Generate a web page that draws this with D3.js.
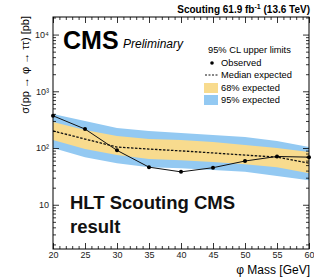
<!DOCTYPE html>
<html>
<head>
<meta charset="utf-8">
<script src="https://cdn.jsdelivr.net/npm/d3@7"></script>
<style>
  body { margin: 0; background: #fff; }
  svg { display: block; font-family: "Liberation Sans", Arial, sans-serif; }
</style>
</head>
<body>
<svg id="chart" width="314" height="279"></svg>
<script>
const masses = [20, 25, 30, 35, 40, 45, 50, 55, 60]
const observed = [370, 216, 91, 46, 38, 45, 59, 71, 69]
const median = [200, 144, 104, 96, 89, 82, 75, 69, 54]
const band68Up = [287, 208, 163, 144, 138, 128, 113, 100, 85]
const band68Down = [138, 96, 75, 64, 61, 57, 52, 46, 36]
const band95Up = [398, 299, 225, 200, 184, 170, 156, 133, 104]
const band95Down = [100, 69, 54, 46, 44, 41, 38, 32, 27]
const xTicks = [20, 25, 30, 35, 40, 45, 50, 55, 60]
const yTicks = [10, 100, 1000, 10000]
const yTickLabels = ['10', '10²', '10³', '10⁴']

const svg = d3.select('#chart')
const frame = { left: 53, right: 309, top: 17, bottom: 249 }

const x = d3.scaleLinear().domain([20, 60]).range([frame.left, frame.right])
const y = d3.scaleLog().domain([1.66, 20400]).range([frame.bottom, frame.top])

const rows = masses.map(function (m, i) {
  return {
    m: m, obs: observed[i], med: median[i],
    u1: band68Up[i], d1: band68Down[i], u2: band95Up[i], d2: band95Down[i]
  }
})

const plot = svg.append('g')
plot.append('clipPath').attr('id', 'clip')
  .append('rect')
    .attr('x', frame.left).attr('y', frame.top)
    .attr('width', frame.right - frame.left).attr('height', frame.bottom - frame.top)

const marks = plot.append('g').attr('clip-path', 'url(#clip)')

const area = function (hi, lo) {
  return d3.area()
    .x(function (d) { return x(d.m) })
    .y0(function (d) { return y(d[lo]) })
    .y1(function (d) { return y(d[hi]) })
}

marks.append('path').datum(rows).attr('d', area('u2', 'd2')).attr('fill', '#93c9f2')
marks.append('path').datum(rows).attr('d', area('u1', 'd1')).attr('fill', '#f8db8e')

marks.append('path').datum(rows)
  .attr('d', d3.line().x(function (d) { return x(d.m) }).y(function (d) { return y(d.med) }))
  .attr('fill', 'none')
  .attr('stroke', '#111')
  .attr('stroke-width', 1.3)
  .attr('stroke-dasharray', '2.5,1.5')

marks.append('path').datum(rows)
  .attr('d', d3.line().x(function (d) { return x(d.m) }).y(function (d) { return y(d.obs) }))
  .attr('fill', 'none')
  .attr('stroke', '#111')
  .attr('stroke-width', 1)

plot.selectAll('circle.obs')
  .data(rows)
  .enter()
  .append('circle')
    .attr('class', 'obs')
    .attr('cx', function (d) { return x(d.m) })
    .attr('cy', function (d) { return y(d.obs) })
    .attr('r', 2)
    .attr('fill', '#000')

// frame
plot.append('rect')
  .attr('x', frame.left).attr('y', frame.top)
  .attr('width', frame.right - frame.left).attr('height', frame.bottom - frame.top)
  .attr('fill', 'none').attr('stroke', '#000').attr('stroke-width', 1)

// axes, ROOT style with ticks pointing in
const xMinor = d3.range(20, 61, 1).filter(function (v) { return v % 5 !== 0 })
svg.append('g')
  .attr('transform', 'translate(0,' + frame.bottom + ')')
  .call(d3.axisBottom(x).tickValues(xTicks).tickSize(-6).tickPadding(3).tickFormat(d3.format('d')))
svg.append('g')
  .attr('transform', 'translate(0,' + frame.bottom + ')')
  .call(d3.axisBottom(x).tickValues(xMinor).tickSize(-3).tickFormat(''))
svg.append('g')
  .attr('transform', 'translate(0,' + frame.top + ')')
  .call(d3.axisTop(x).tickValues(xTicks).tickSize(-6).tickFormat(''))
svg.append('g')
  .attr('transform', 'translate(0,' + frame.top + ')')
  .call(d3.axisTop(x).tickValues(xMinor).tickSize(-3).tickFormat(''))

const yMinor = []
;[1, 10, 100, 1000, 10000].forEach(function (p) {
  for (let k = 2; k <= 9; k++) {
    const v = p * k
    if (v >= 1.66 && v <= 20400) yMinor.push(v)
  }
})
svg.append('g')
  .attr('transform', 'translate(' + frame.left + ',0)')
  .call(d3.axisLeft(y).tickValues(yTicks).tickSize(-6).tickPadding(4)
    .tickFormat(function (d, i) { return yTickLabels[i] }))
svg.append('g')
  .attr('transform', 'translate(' + frame.left + ',0)')
  .call(d3.axisLeft(y).tickValues(yMinor).tickSize(-3).tickFormat(''))
svg.append('g')
  .attr('transform', 'translate(' + frame.right + ',0)')
  .call(d3.axisRight(y).tickValues(yTicks).tickSize(-6).tickFormat(''))
svg.append('g')
  .attr('transform', 'translate(' + frame.right + ',0)')
  .call(d3.axisRight(y).tickValues(yMinor).tickSize(-3).tickFormat(''))

svg.selectAll('.domain').remove()
svg.selectAll('.tick line').attr('stroke', '#000').attr('stroke-width', 0.8)
svg.selectAll('.tick text').attr('font-size', 9).attr('fill', '#222')
  .attr('font-family', '"Liberation Sans", Arial, sans-serif')

// titles
svg.append('text')
  .attr('x', 310).attr('y', 274)
  .attr('text-anchor', 'end')
  .attr('font-size', 12)
  .text('φ Mass [GeV]')

svg.append('text')
  .attr('transform', 'translate(29,16) rotate(-90)')
  .attr('text-anchor', 'end')
  .attr('font-size', 11)
  .text('σ(pp → φ → ττ) [pb]')

svg.append('text')
  .attr('x', 310).attr('y', 13)
  .attr('text-anchor', 'end')
  .attr('font-size', 10)
  .attr('font-weight', 'bold')
  .html('Scouting 61.9 fb<tspan dy="-4" font-size="7">-1</tspan><tspan dy="4"> (13.6 TeV)</tspan>')

svg.append('text')
  .attr('x', 63).attr('y', 49)
  .attr('font-size', 25)
  .attr('font-weight', 'bold')
  .text('CMS')

svg.append('text')
  .attr('x', 123).attr('y', 48)
  .attr('font-size', 12)
  .attr('font-style', 'italic')
  .text('Preliminary')

// legend
const legend = svg.append('g').attr('font-size', 9.3)
legend.append('text').attr('x', 208).attr('y', 53).text('95% CL upper limits')
legend.append('circle').attr('cx', 212).attr('cy', 63).attr('r', 1.8).attr('fill', '#000')
legend.append('text').attr('x', 221).attr('y', 66).text('Observed')
legend.append('line')
  .attr('x1', 205).attr('x2', 218).attr('y1', 75).attr('y2', 75)
  .attr('stroke', '#111').attr('stroke-width', 1.2).attr('stroke-dasharray', '2,1.5')
legend.append('text').attr('x', 221).attr('y', 78).text('Median expected')
legend.append('rect').attr('x', 204).attr('y', 83).attr('width', 14).attr('height', 10).attr('fill', '#f8db8e')
legend.append('text').attr('x', 221).attr('y', 91).text('68% expected')
legend.append('rect').attr('x', 204).attr('y', 95).attr('width', 14).attr('height', 10).attr('fill', '#93c9f2')
legend.append('text').attr('x', 221).attr('y', 103).text('95% expected')

// annotation
const note = svg.append('text')
  .attr('font-size', 18.5)
  .attr('font-weight', 'bold')
  .attr('fill', '#111')
note.append('tspan').attr('x', 70).attr('y', 209).text('HLT Scouting CMS')
note.append('tspan').attr('x', 70).attr('y', 233).text('result')
</script>
</body>
</html>
